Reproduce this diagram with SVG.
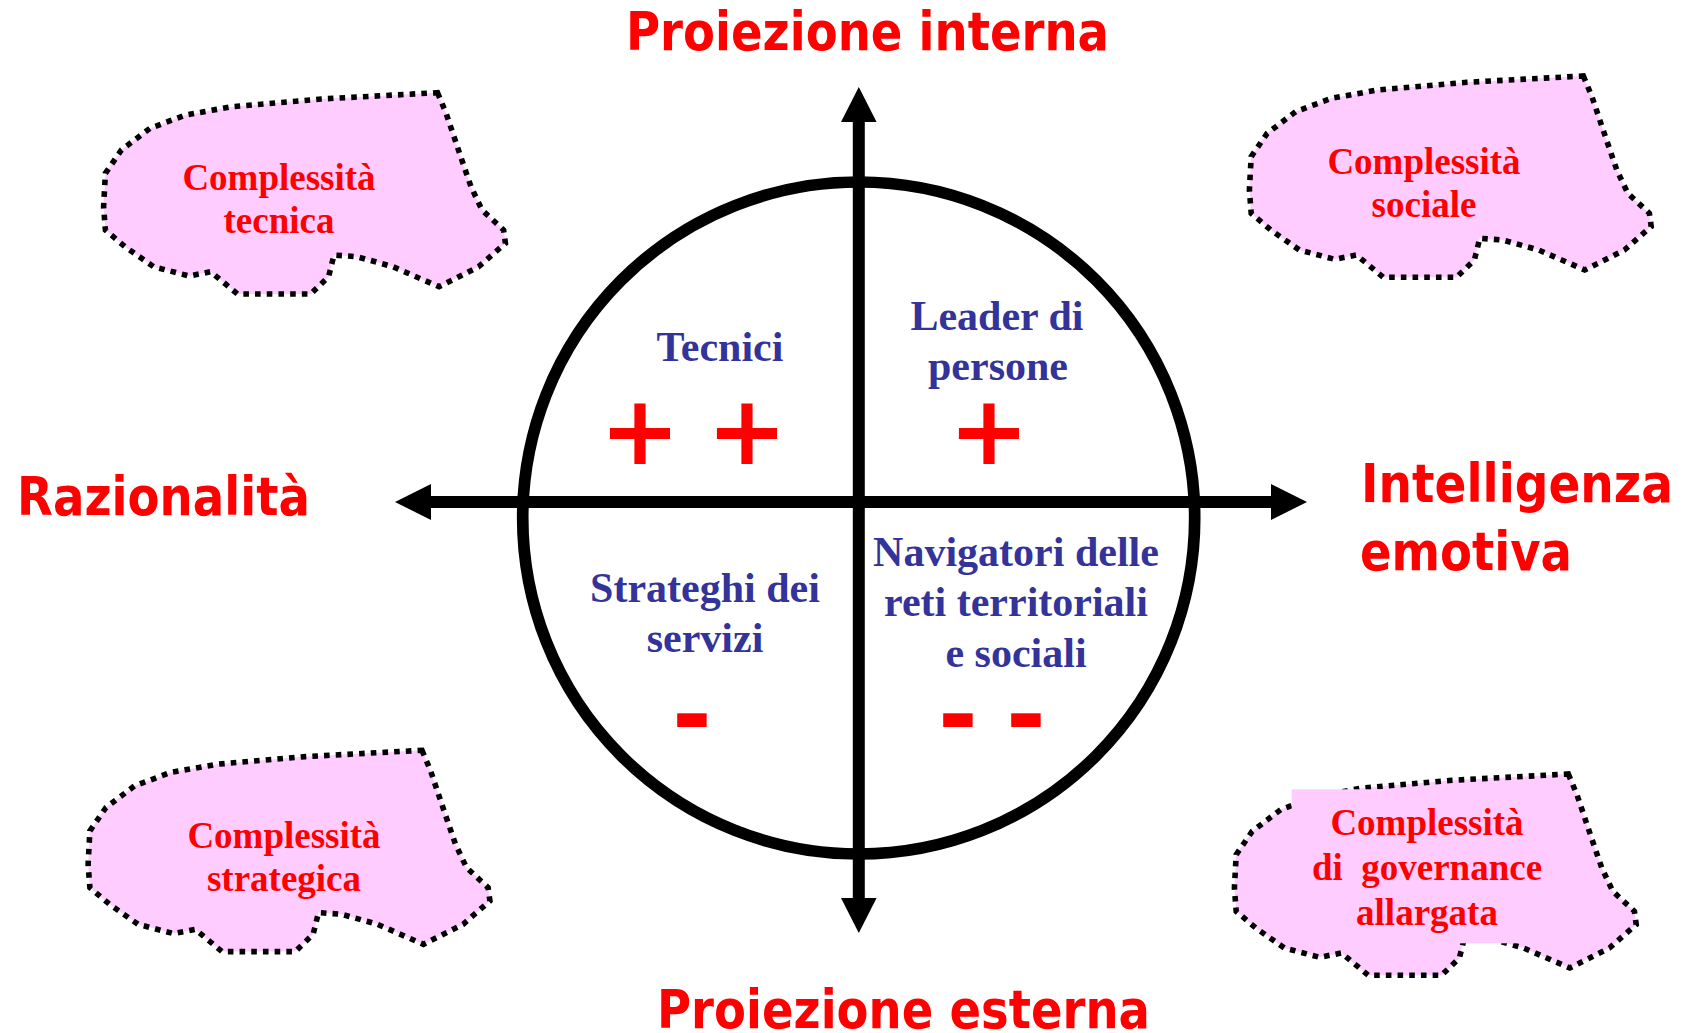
<svg xmlns="http://www.w3.org/2000/svg" xmlns:xlink="http://www.w3.org/1999/xlink" width="1688" height="1033" viewBox="0 0 1688 1033">
<style>
.title{font-family:"DejaVu Sans","Verdana",sans-serif;font-weight:bold;font-size:54px;fill:#FF0000;}
.role{font-family:"Liberation Serif","Times New Roman",serif;font-weight:bold;font-size:42px;fill:#333399;text-anchor:middle;}
.cplx{font-family:"Liberation Serif","Times New Roman",serif;font-weight:bold;font-size:37px;fill:#FF0000;text-anchor:middle;white-space:pre;}
.sign{font-family:"DejaVu Sans",sans-serif;font-weight:bold;font-size:96px;fill:#FF0000;text-anchor:middle;}
.blob{fill:#FFCCFF;stroke:#000000;stroke-width:5.6;stroke-dasharray:5.6 6.1;stroke-linejoin:miter;}
.axis{stroke:#000000;stroke-width:12;fill:none;}
.head{fill:#000000;}
</style>
<defs>
<path id="blobShape" d="M437.5,92.7 L446,113 L460.7,156.7 L471,186.7 L482,210 L503.6,230 L505.4,243.3 L478.6,266.7 L439,286.7 L392.9,266.7 L357,256.7 L334,255 L328.6,276.7 L310.7,294 L237.5,294 L210.7,271.7 L189,276 L153.6,266.7 L125,246.7 L105.4,230 L103.6,206.7 L105.4,173.3 L121.4,150 L150,128.3 L185.7,115 L232,106.7 L321,99 Z"/>
</defs>
<rect x="0" y="0" width="1688" height="1033" fill="#FFFFFF"/>

<g id="blob-tecnica">
<use xlink:href="#blobShape" class="blob"/>
<text class="cplx" x="279" y="190">Complessità</text>
<text class="cplx" x="279" y="233">tecnica</text>
</g>
<g id="blob-sociale">
<use xlink:href="#blobShape" class="blob" transform="translate(1145.8,-16.7)"/>
<text class="cplx" x="1424" y="174">Complessità</text>
<text class="cplx" x="1424" y="217">sociale</text>
</g>
<g id="blob-strategica">
<use xlink:href="#blobShape" class="blob" transform="translate(-15.5,657.6)"/>
<text class="cplx" x="284" y="848">Complessità</text>
<text class="cplx" x="284" y="891">strategica</text>
</g>
<g id="blob-governance">
<use xlink:href="#blobShape" class="blob" transform="translate(1130.8,681.3)"/>
<rect x="1291.7" y="789.3" width="248" height="154" fill="#FFCCFF"/>
<text class="cplx" x="1427" y="835">Complessità</text>
<text class="cplx" x="1427" y="880" xml:space="preserve">di  governance</text>
<text class="cplx" x="1427" y="925">allargata</text>
</g>

<g id="circle">
<circle cx="858.7" cy="518" r="336" fill="none" stroke="#000000" stroke-width="11.7"/>
</g>

<g id="connectors">
<line class="axis" x1="428" y1="502" x2="1273" y2="502"/>
<polygon class="head" points="395,502 431,484 431,520"/>
<polygon class="head" points="1307,502 1271,484 1271,520"/>
<line class="axis" x1="858.8" y1="120" x2="858.8" y2="900"/>
<polygon class="head" points="858.8,87 841,122 876.6,122"/>
<polygon class="head" points="858.8,933 841,898 876.6,898"/>
</g>

<g id="title-interna"><text class="title" x="626" y="50" textLength="483" lengthAdjust="spacingAndGlyphs">Proiezione interna</text></g>
<g id="title-esterna"><text class="title" x="657" y="1028" textLength="493" lengthAdjust="spacingAndGlyphs">Proiezione esterna</text></g>
<g id="title-razionalita"><text class="title" x="17" y="515" textLength="293" lengthAdjust="spacingAndGlyphs">Razionalità</text></g>
<g id="title-intelligenza">
<text class="title" x="1361" y="502" textLength="312" lengthAdjust="spacingAndGlyphs">Intelligenza</text>
<text class="title" x="1360" y="570" textLength="212" lengthAdjust="spacingAndGlyphs">emotiva</text>
</g>

<g id="q-tecnici">
<text class="role" x="720" y="361">Tecnici</text>
<text class="sign" x="640" y="464">+</text>
<text class="sign" x="747" y="464">+</text>
</g>
<g id="q-leader">
<text class="role" x="997" y="330">Leader di</text>
<text class="role" x="998" y="380">persone</text>
<text class="sign" x="989" y="464">+</text>
</g>
<g id="q-strateghi">
<text class="role" x="705" y="602">Strateghi dei</text>
<text class="role" x="705" y="652">servizi</text>
<text class="sign" x="692" y="748">-</text>
</g>
<g id="q-navigatori">
<text class="role" x="1016" y="566">Navigatori delle</text>
<text class="role" x="1016" y="616">reti territoriali</text>
<text class="role" x="1016" y="667">e sociali</text>
<text class="sign" x="958" y="748">-</text>
<text class="sign" x="1026" y="748">-</text>
</g>
</svg>
